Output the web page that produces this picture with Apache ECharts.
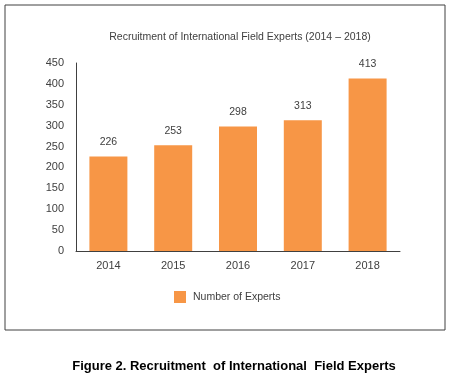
<!DOCTYPE html>
<html>
<head>
<meta charset="utf-8">
<script src="https://cdn.jsdelivr.net/npm/echarts@6/dist/echarts.min.js"></script>
<style>
  html, body { margin: 0; padding: 0; background: #fff; }
  #chart { width: 450px; height: 378px; }
</style>
</head>
<body>
<div id="chart"></div>
<script>
var years = ['2014', '2015', '2016', '2017', '2018'];
var experts = [226, 253, 298, 313, 413];
var seriesName = 'Number of Experts';

var sans = '"Liberation Sans", Arial, sans-serif';
var myChart = echarts.init(document.getElementById('chart'));

option = {
    animation: false,
    backgroundColor: '#fff',
    title: [
        {
            text: 'Recruitment of International Field Experts (2014 \u2013 2018)',
            left: 235,
            top: 27,
            textAlign: 'center',
            textStyle: { fontFamily: sans, fontSize: 10.5, fontWeight: 'normal', color: '#404040' }
        },
        {
            text: 'Figure 2. Recruitment  of International  Field Experts',
            left: 229,
            top: 355,
            textAlign: 'center',
            textStyle: { fontFamily: sans, fontSize: 13, fontWeight: 'bold', color: '#000' }
        }
    ],
    graphic: [
        {
            type: 'rect',
            shape: { x: 5, y: 5, width: 440, height: 325 },
            style: { fill: 'none', stroke: '#404040', lineWidth: 1 }
        }
    ],
    legend: {
        data: [seriesName],
        icon: 'rect',
        left: 169,
        top: 286,
        itemWidth: 12,
        itemHeight: 12,
        itemGap: 8,
        textStyle: { fontFamily: sans, fontSize: 10.5, color: '#404040', padding: [0, 0, 0, 2] }
    },
    grid: { left: 76, right: 50, top: 63, bottom: 127 },
    xAxis: {
        type: 'category',
        data: years,
        axisLine: { lineStyle: { color: '#404040' } },
        axisTick: { show: false },
        axisLabel: { fontFamily: sans, fontSize: 11, color: '#404040', margin: 9 }
    },
    yAxis: {
        type: 'value',
        min: 0,
        max: 450,
        interval: 50,
        axisLine: { show: true, lineStyle: { color: '#404040' } },
        axisTick: { show: false },
        splitLine: { show: false },
        axisLabel: { fontFamily: sans, fontSize: 11, color: '#404040', margin: 12 }
    },
    series: [
        {
            name: seriesName,
            type: 'bar',
            data: experts,
            barWidth: 38,
            itemStyle: { color: '#F79646' },
            label: {
                show: true,
                position: 'top',
                distance: 9,
                fontFamily: sans,
                fontSize: 10.5,
                color: '#404040'
            }
        }
    ]
};

myChart.setOption(option);
</script>
</body>
</html>
